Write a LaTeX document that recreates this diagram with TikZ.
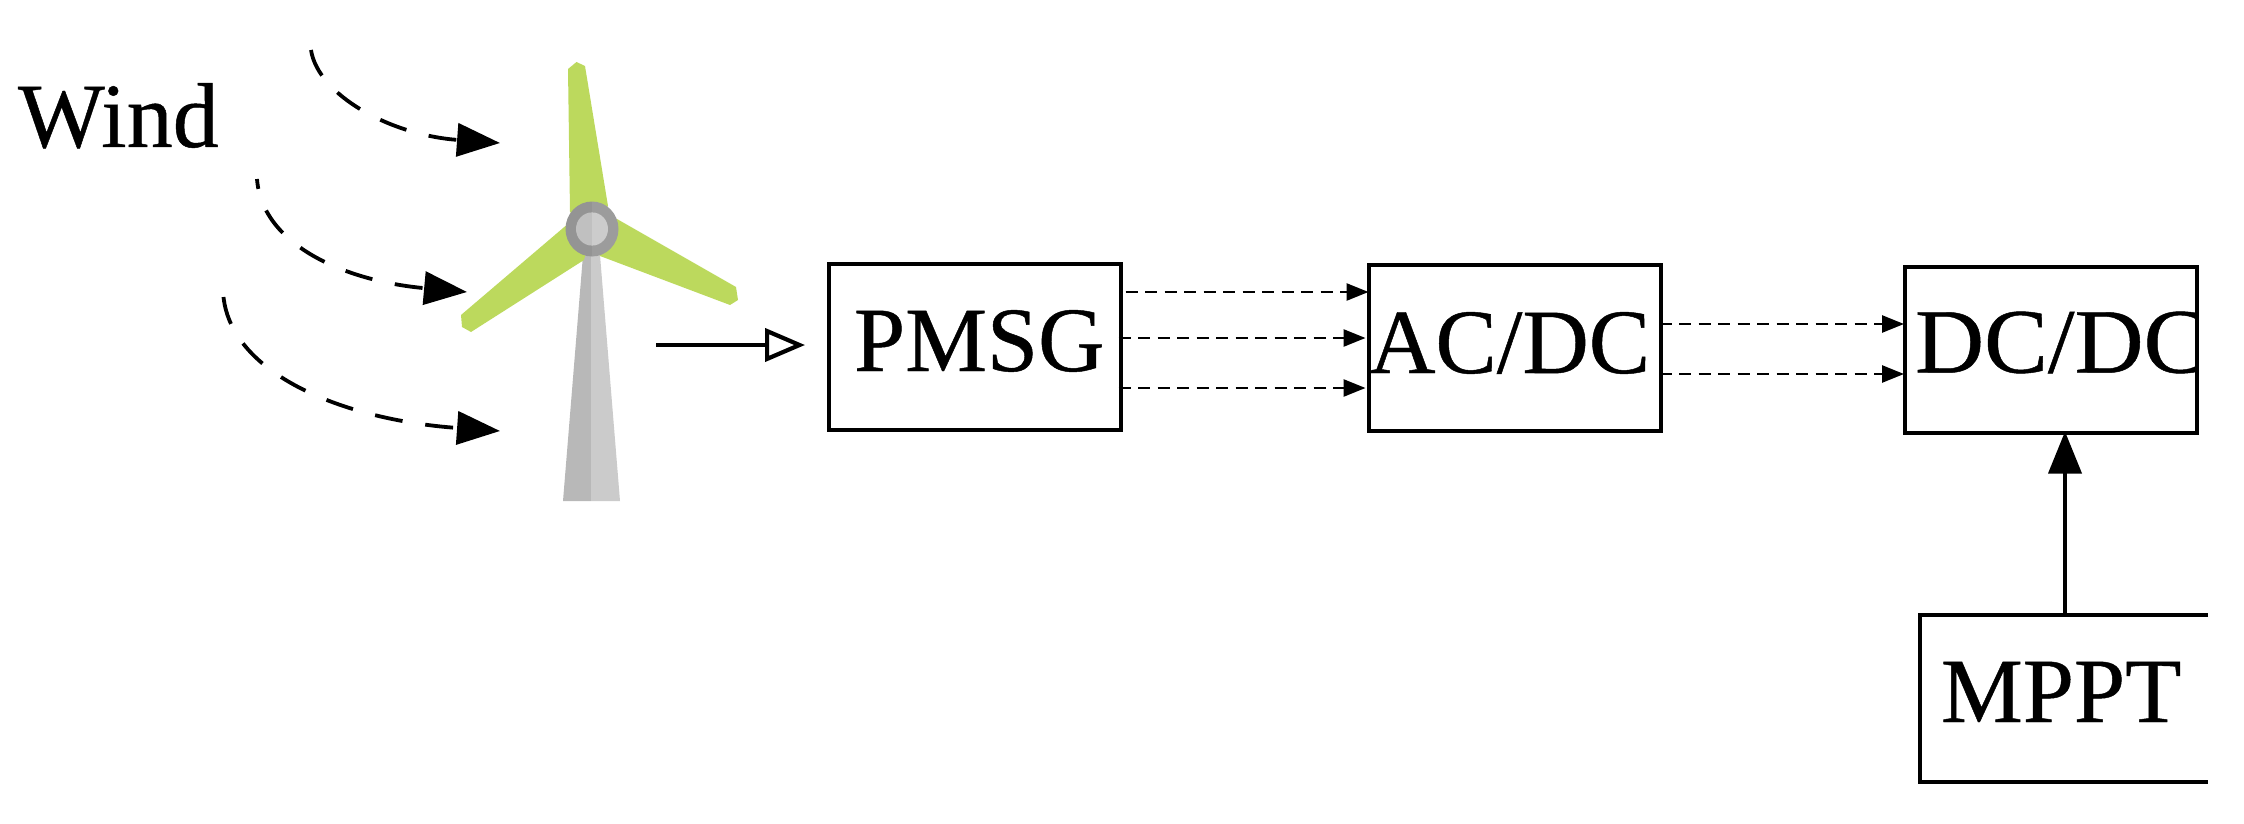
\documentclass[tikz,border=0pt]{standalone}
\usepackage{fontspec}
\setmainfont{Liberation Serif}[FakeBold=0.5]
\usetikzlibrary{arrows.meta}
\definecolor{bladegreen}{HTML}{BCD95D}
\definecolor{towerdark}{HTML}{B8B8B8}
\definecolor{towerlight}{HTML}{CBCBCB}
\definecolor{hubdark}{HTML}{949494}
\definecolor{hublight}{HTML}{9C9C9C}
\definecolor{coredark}{HTML}{C0C0C0}
\definecolor{corelight}{HTML}{CCCCCC}
\tikzset{
  x=1pt,y=-1pt,
  boxnode/.style={draw=black,line width=4pt,fill=none,minimum width=292pt,minimum height=166pt,inner sep=0pt},
  label text/.style={anchor=base west,inner sep=0pt,outer sep=0pt,font=\fontsize{92}{110}\selectfont},
  windarrow/.style={line width=3.8pt,dash pattern=on 28pt off 23pt,-{Stealth[length=43pt,width=33pt,inset=0pt]}},
  signal/.style={line width=2.6pt,dash pattern=on 12pt off 7.5pt,-{Stealth[length=22pt,width=17pt,inset=0pt]}},
  mech/.style={line width=4.2pt,-{Stealth[open,fill=white,length=40pt,width=33pt,inset=0pt]}},
  control/.style={line width=3.8pt,-{Stealth[length=42pt,width=33pt,inset=0pt]}},
}
\begin{document}
\begin{tikzpicture}
\useasboundingbox (0,0) rectangle (2244,824);
% turbine
\fill[towerdark] (583,255) -- (591,255) -- (591,501) -- (563,501) -- cycle;
\fill[towerlight] (591,255) -- (600,255) -- (620,501) -- (591,501) -- cycle;
\fill[bladegreen] (568,69) -- (576.5,62) -- (585,66) -- (608,206) -- (592,229) -- (570,212) -- cycle;
\fill[bladegreen] (617,219) -- (736,287) -- (738,300) -- (730,305) -- (600,256) -- (592,229) -- cycle;
\fill[bladegreen] (566,225.5) -- (461,315) -- (462,327) -- (471,332) -- (584,260) -- (592,229) -- cycle;
\begin{scope}
  \clip (560,190) rectangle (592,270);
  \fill[hubdark] (592,229) ellipse [x radius=26.5,y radius=27.5];
  \fill[coredark] (592,229) ellipse [x radius=16,y radius=16.6];
\end{scope}
\begin{scope}
  \clip (592,190) rectangle (625,270);
  \fill[hublight] (592,229) ellipse [x radius=26.5,y radius=27.5];
  \fill[corelight] (592,229) ellipse [x radius=16,y radius=16.6];
\end{scope}
% wind
\node[label text] (windlabel) at (18,147) {Wind};
\coordinate (wa1) at (311,50);  \coordinate (wb1) at (500,143);
\coordinate (wa2) at (257,179); \coordinate (wb2) at (467,292);
\coordinate (wa3) at (223.5,297); \coordinate (wb3) at (500,431);
\draw[windarrow] (wa1) .. controls (318,95) and (390,135) .. (wb1);
\draw[windarrow,dash phase=18pt] (wa2) .. controls (262,245) and (345,281) .. (wb2);
\draw[windarrow] (wa3) .. controls (232,375) and (345,420) .. (wb3);
% boxes
\node[boxnode] (pmsg) at (974.5,347) {};
\node[boxnode] (acdc) at (1515,347.5) {};
\node[boxnode] (dcdc) at (2050.5,349.5) {};
\node[minimum width=288pt,minimum height=167pt,inner sep=0pt] (mppt) at (2064,698.5) {};
\draw[line width=3.8pt] (mppt.north east) -- (mppt.north west) -- (mppt.south west) -- (mppt.south east);
\node[label text] (pmsgtext) at (854,371) {PMSG};
\node[label text] (acdctext) at (1369,373) {AC/DC};
\begin{scope}
  \clip (1900,260) rectangle (2195,440);
  \node[label text,xscale=1.04] (dcdctext) at (1915,372.5) {DC/DC};
\end{scope}
\node[label text] (mppttext) at (1941,722) {MPPT};
% connectors
\coordinate (mecha) at (656,345);
\coordinate (mechb) at (805,345);
\draw[mech] (mecha) -- (mechb);
\draw[signal] ([xshift=3pt,yshift=55pt]pmsg.east) -- ([xshift=1.5pt,yshift=55.5pt]acdc.west);
\draw[signal] ([xshift=-4pt,yshift=9pt]pmsg.east) -- ([xshift=-1.5pt,yshift=9.5pt]acdc.west);
\draw[signal] ([xshift=-4pt,yshift=-41pt]pmsg.east) -- ([xshift=-1.5pt,yshift=-40.5pt]acdc.west);
\draw[signal] ([xshift=-3.5pt,yshift=23.5pt]acdc.east) -- ([xshift=1.5pt,yshift=25.5pt]dcdc.west);
\draw[signal] ([xshift=-3.5pt,yshift=-26.5pt]acdc.east) -- ([xshift=1.5pt,yshift=-24.5pt]dcdc.west);
\draw[control] ([xshift=1pt]mppt.north) -- ([xshift=14.5pt,yshift=3pt]dcdc.south);
\end{tikzpicture}
\end{document}
